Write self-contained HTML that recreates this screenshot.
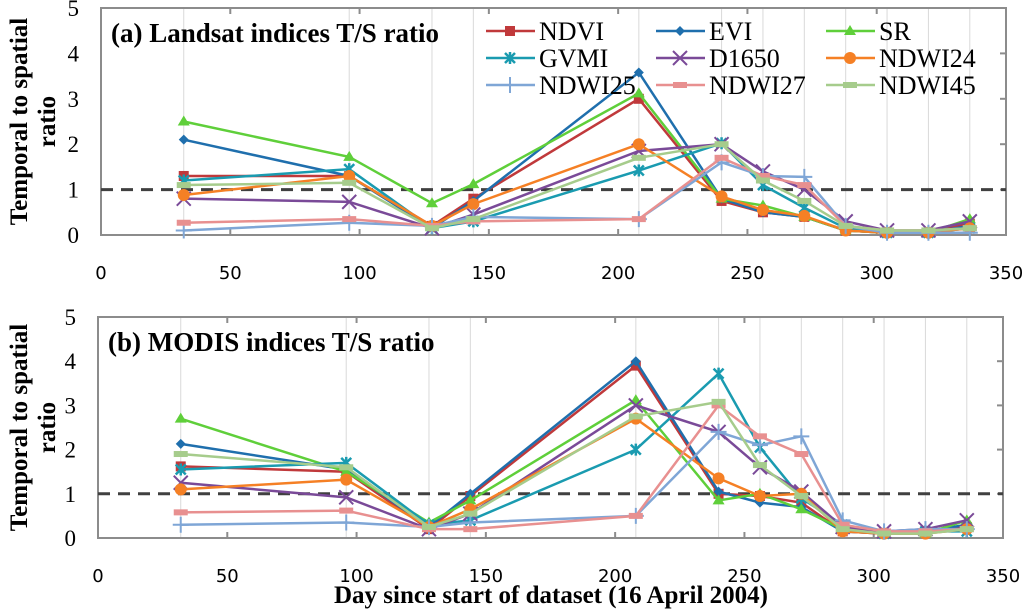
<!DOCTYPE html>
<html><head><meta charset="utf-8"><style>
html,body{margin:0;padding:0;background:#fff;}
svg{display:block;}
</style></head><body>
<svg id="chart" width="1024" height="609" xmlns="http://www.w3.org/2000/svg"></svg>
<script>
const days = [32,96,128,144,208,240,256,272,288,304,320,336];
const seriesNames = ["NDVI","EVI","SR","GVMI","D1650","NDWI24","NDWI25","NDWI27","NDWI45"];
const landsatNDVI = [1.3,1.3,0.2,0.8,3.0,0.75,0.5,0.4,0.1,0.05,0.05,0.25];
const landsatEVI = [2.1,1.3,0.15,0.75,3.58,0.8,0.5,0.4,0.1,0.05,0.05,0.2];
const landsatSR = [2.5,1.72,0.7,1.12,3.12,0.8,0.65,0.4,0.1,0.05,0.05,0.35];
const landsatGVMI = [1.2,1.45,0.15,0.3,1.42,2.02,1.1,0.6,0.15,0.05,0.05,0.15];
const landsatD1650 = [0.8,0.73,0.15,0.45,1.85,2.0,1.4,1.0,0.3,0.1,0.1,0.3];
const landsatNDWI24 = [0.88,1.3,0.2,0.68,2.0,0.85,0.55,0.42,0.1,0.05,0.05,0.15];
const landsatNDWI25 = [0.1,0.27,0.2,0.4,0.35,1.6,1.3,1.28,0.2,0.05,0.05,0.05];
const landsatNDWI27 = [0.27,0.35,0.2,0.3,0.35,1.7,1.3,1.1,0.2,0.1,0.1,0.15];
const landsatNDWI45 = [1.1,1.15,0.15,0.35,1.7,2.0,1.2,0.75,0.2,0.1,0.1,0.15];
const modisNDVI = [1.62,1.5,0.2,0.95,3.9,1.0,0.95,0.8,0.15,0.1,0.15,0.25];
const modisEVI = [2.13,1.55,0.25,1.0,4.0,1.05,0.8,0.7,0.15,0.1,0.15,0.3];
const modisSR = [2.7,1.5,0.35,0.85,3.12,0.85,1.0,0.65,0.2,0.1,0.1,0.4];
const modisGVMI = [1.55,1.7,0.3,0.4,2.0,3.72,2.05,0.9,0.3,0.1,0.15,0.15];
const modisD1650 = [1.25,0.92,0.2,0.55,3.0,2.4,1.6,1.05,0.25,0.15,0.2,0.4];
const modisNDWI24 = [1.1,1.32,0.25,0.65,2.7,1.35,0.95,1.0,0.15,0.1,0.1,0.2];
const modisNDWI25 = [0.3,0.35,0.25,0.35,0.5,2.4,2.1,2.3,0.4,0.15,0.2,0.2];
const modisNDWI27 = [0.58,0.62,0.2,0.2,0.5,3.0,2.3,1.9,0.3,0.15,0.15,0.2];
const modisNDWI45 = [1.9,1.6,0.25,0.55,2.75,3.08,1.65,0.95,0.2,0.1,0.1,0.2];
const xTicks = [0,50,100,150,200,250,300,350];
const yTicks = [0,1,2,3,4,5];
const refLine = 1;

const colors = ["#c0393b","#1f6fad","#5fcf3a","#1a9bb0","#7a4a98","#f58025","#7fa6d6","#e89090","#a6cc8c"];
const markers = ["square","diamond","triangle","star","x","circle","plus","dash","dash"];
const NS = "http://www.w3.org/2000/svg";
const svg = document.getElementById('chart');
function mk(tag, attrs, parent){const e=document.createElementNS(NS,tag);for(const k in attrs)e.setAttribute(k,attrs[k]);(parent||svg).appendChild(e);return e;}

function marker(g, type, x, y, c){
  let m;
  if(type==="square") m=mk('rect',{x:x-5,y:y-5,width:10,height:10,fill:c},g);
  else if(type==="diamond") m=mk('polygon',{points:`${x},${y-5} ${x+5},${y} ${x},${y+5} ${x-5},${y}`,fill:c},g);
  else if(type==="triangle") m=mk('polygon',{points:`${x},${y-6} ${x+6},${y+4} ${x-6},${y+4}`,fill:c},g);
  else if(type==="circle") m=mk('circle',{cx:x,cy:y,r:6,fill:c},g);
  else if(type==="x") m=mk('path',{d:`M${x-7} ${y-7}L${x+7} ${y+7}M${x-7} ${y+7}L${x+7} ${y-7}`,stroke:c,'stroke-width':2},g);
  else if(type==="plus") m=mk('path',{d:`M${x-8} ${y}L${x+8} ${y}M${x} ${y-8}L${x} ${y+8}`,stroke:c,'stroke-width':2},g);
  else if(type==="star") m=mk('path',{d:`M${x-5} ${y-5}L${x+5} ${y+5}M${x-5} ${y+5}L${x+5} ${y-5}M${x} ${y-6}L${x} ${y+6}`,stroke:c,'stroke-width':2.5},g);
  else m=mk('rect',{x:x-7,y:y-3,width:14,height:6,fill:c},g);
  
  
}

function panel(cfg){
  const {L,R,T,B,title,data,id} = cfg;
  const xs = v => L + v/350*(R-L);
  const ys = v => B - v/5*(B-T);
  const g = mk('g',{});
  
  
  days.forEach(d=>{const l=mk('line',{x1:xs(d),x2:xs(d),y1:T,y2:B,stroke:'#d9d9d9','stroke-width':1},g);
    });
  const fr=mk('rect',{x:L,y:T,width:R-L,height:B-T,fill:'none',stroke:'#8c8c8c','stroke-width':2},g);
  
  xTicks.forEach(t=>{
    if(t>0&&t<350){mk('line',{x1:xs(t),x2:xs(t),y1:B,y2:B-6,stroke:'#8c8c8c','stroke-width':2},g);
      mk('line',{x1:xs(t),x2:xs(t),y1:T,y2:T+6,stroke:'#8c8c8c','stroke-width':2},g);}
    const tx=mk('text',{x:xs(t),y:B+44,'font-family':'DejaVu Sans, sans-serif','font-size':18,'text-anchor':'middle',fill:'#000'},g);
    tx.textContent=t;
  });
  yTicks.forEach(t=>{
    if(t>0&&t<5) mk('line',{x1:R,x2:R-6,y1:ys(t),y2:ys(t),stroke:'#8c8c8c','stroke-width':2},g);
    const tx=mk('text',{x:L-22,y:ys(t)+8,'font-family':'Liberation Serif, serif','font-size':23,'text-anchor':'end',fill:'#000'},g);
    tx.textContent=t;
  });
  const rl=mk('line',{x1:L,x2:R,y1:ys(refLine),y2:ys(refLine),stroke:'#404040','stroke-width':3,'stroke-dasharray':'12,8'},g);
  
  data.forEach((vals,i)=>{
    const sg=mk('g',{},g);
    
    
    const pts=vals.map((v,j)=>xs(days[j])+','+ys(v)).join(' ');
    mk('polyline',{points:pts,fill:'none',stroke:colors[i],'stroke-width':2.5},sg);
    vals.forEach((v,j)=>marker(sg,markers[i],xs(days[j]),ys(v),colors[i]));
  });
  const tt=mk('text',{x:L+10,y:T+34,'font-family':'Liberation Serif, serif','font-size':27,'font-weight':'bold',fill:'#000'},g);
  tt.textContent=title;
  const yt=mk('text',{transform:`translate(27,${(T+B)/2}) rotate(-90)`,'font-family':'Liberation Serif, serif','font-size':25,'font-weight':'bold','text-anchor':'middle',fill:'#000'},g);
  
  const t1=mk('tspan',{x:0,dy:0},yt);t1.textContent='Temporal to spatial';
  const t2=mk('tspan',{x:0,dy:28},yt);t2.textContent='ratio';
}

panel({L:101,R:1006,T:8,B:235,id:'landsat',title:'(a) Landsat indices T/S ratio',
  data:[landsatNDVI,landsatEVI,landsatSR,landsatGVMI,landsatD1650,landsatNDWI24,landsatNDWI25,landsatNDWI27,landsatNDWI45]});
panel({L:98,R:1003,T:317,B:538,id:'modis',title:'(b) MODIS indices T/S ratio',
  data:[modisNDVI,modisEVI,modisSR,modisGVMI,modisD1650,modisNDWI24,modisNDWI25,modisNDWI27,modisNDWI45]});

const lg=mk('g',{});


const colX=[486,656,826], rowY=[31,58,85];
seriesNames.forEach((n,i)=>{
  const x=colX[i%3], y=rowY[Math.floor(i/3)];
  const e=mk('g',{},lg);
  
  
  mk('line',{x1:x,x2:x+49,y1:y,y2:y,stroke:colors[i],'stroke-width':2.5},e);
  marker(e,markers[i],x+24,y,colors[i]);
  const t=mk('text',{x:x+53,y:y+9,'font-family':'Liberation Serif, serif','font-size':26,fill:'#000'},e);
  t.textContent=n;
});
const xt=mk('text',{x:551,y:603,'font-family':'Liberation Serif, serif','font-size':25,'font-weight':'bold','text-anchor':'middle',fill:'#000'});
xt.textContent='Day since start of dataset (16 April 2004)';


</script>
</body></html>
